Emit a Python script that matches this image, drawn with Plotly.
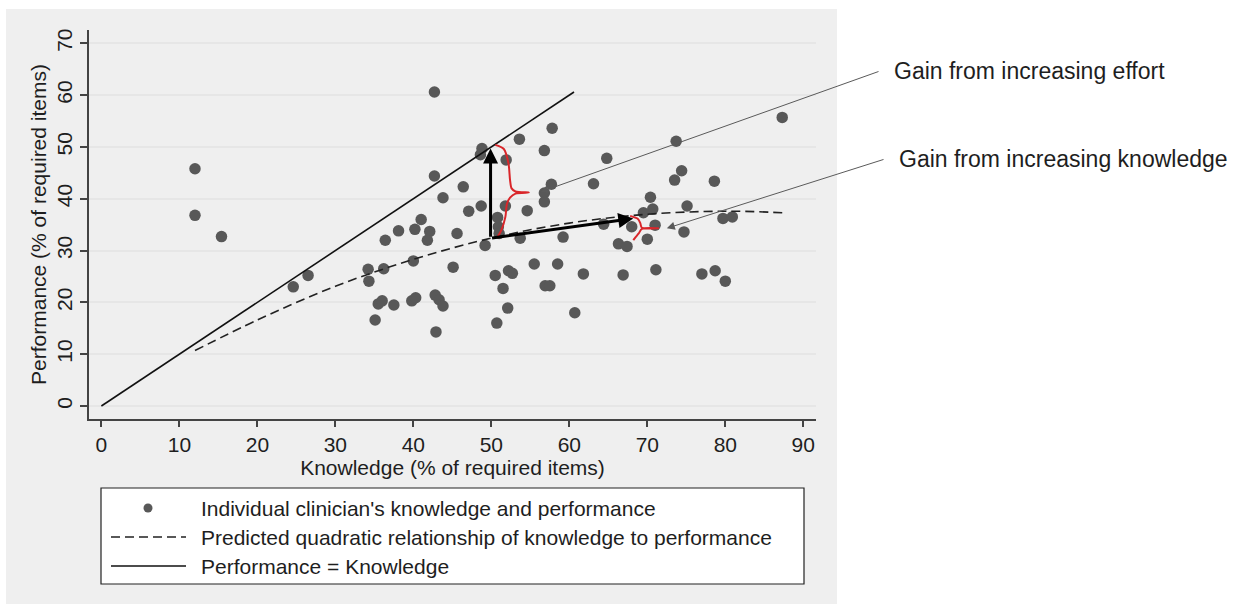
import plotly.graph_objects as go

# ---------------- data ----------------
knowledge = [12.0, 12.0, 15.4, 24.6, 26.5, 34.2, 34.3, 36.2, 36.4, 38.1,
             40.2, 40.0, 35.5, 36.0, 37.5, 35.1, 39.8, 40.3, 41.0, 42.7,
             46.4, 43.8, 48.7, 47.1, 42.1, 41.8, 45.6, 49.2, 45.1, 42.8,
             43.3, 43.8, 42.9, 42.7, 48.8, 48.6, 53.6, 57.8, 56.8, 51.9,
             64.8, 63.1, 57.7, 56.8, 56.8, 54.6, 51.8, 50.8, 50.9, 51.0,
             53.7, 59.2, 64.4, 66.3, 67.4, 68.0, 55.5, 58.5, 50.5, 52.2,
             52.7, 51.5, 56.9, 57.5, 61.8, 66.9, 52.1, 50.7, 60.7, 87.3,
             73.7, 74.4, 73.5, 78.6, 70.4, 70.7, 69.5, 75.1, 79.7, 80.9,
             71.0, 70.0, 74.7, 71.1, 77.0, 78.7, 80.0]
performance = [45.8, 36.8, 32.7, 23.0, 25.2, 26.4, 24.1, 26.5, 32.0, 33.8,
               34.1, 28.0, 19.7, 20.3, 19.5, 16.6, 20.3, 20.9, 36.0, 44.4,
               42.3, 40.2, 38.6, 37.6, 33.7, 32.0, 33.3, 31.0, 26.8, 21.4,
               20.5, 19.3, 14.3, 60.6, 49.7, 48.5, 51.5, 53.6, 49.3, 47.5,
               47.8, 42.9, 42.8, 41.1, 39.4, 37.7, 38.6, 36.4, 34.6, 33.3,
               32.4, 32.6, 35.1, 31.3, 30.8, 34.6, 27.4, 27.4, 25.2, 26.1,
               25.6, 22.7, 23.2, 23.2, 25.5, 25.3, 18.9, 16.0, 18.0, 55.7,
               51.1, 45.4, 43.6, 43.4, 40.3, 38.0, 37.3, 38.6, 36.2, 36.5,
               34.9, 32.2, 33.6, 26.3, 25.5, 26.1, 24.1]

quad_x = [12, 20, 30, 40, 50, 60, 70, 80, 87.3]
quad_y = [10.7, 16.6, 23.1, 28.3, 32.4, 35.3, 37.0, 37.6, 37.3]

equal_x = [0, 60.6]
equal_y = [0, 60.6]

# effort arrow (tail, head) and knowledge arrow (tail, head)
effort_arrow = [(49.9, 32.4), (49.9, 49.7)]
knowledge_arrow = [(49.9, 32.4), (68.2, 36.2)]

# red braces
brace_big_x = [50.5, 51.6, 52.2, 52.4, 52.6, 53.1, 54.8, 53.1, 52.4, 52.0, 51.8, 51.3, 50.7]
brace_big_y = [50.4, 49.6, 46.8, 43.6, 42.0, 41.4, 41.2, 41.0, 40.2, 39.0, 36.5, 34.0, 32.4]
brace_small_x = [67.8, 68.8, 69.1, 69.3, 71.4, 69.3, 68.9, 68.5, 68.2]
brace_small_y = [36.7, 36.1, 35.3, 34.4, 34.3, 34.2, 33.3, 32.6, 32.0]

# callout arrow heads (data) and text
callout_heads = [(56.3, 41.3), (72.5, 34.3)]
callout_text = ["Gain from increasing effort", "Gain from increasing knowledge"]

x_ticks = [0, 10, 20, 30, 40, 50, 60, 70, 80, 90]
y_ticks = [0, 10, 20, 30, 40, 50, 60, 70]

legend_labels = ["Individual clinician's knowledge and performance",
                 "Predicted quadratic relationship of knowledge to performance",
                 "Performance = Knowledge"]

# ---------------- layout geometry (pixels) ----------------
FW, FH = 1244, 607
PL, PR, PT, PB = 89, 816, 30, 419
PW, PH = PR - PL, PB - PT
XR = [-1.59, 91.63]
YR = [-2.51, 72.57]


def px(x):
    return (x - PL) / PW


def py(y):
    return (PB - y) / PH


FONT = "Liberation Sans, Arial, sans-serif"
TXT = "#1e1e1e"
DOT = "#585858"
FS = 21
FS_CALL = 23

fig = go.Figure()

fig.add_trace(go.Scatter(x=knowledge, y=performance, mode="markers",
                         marker=dict(size=11.5, color=DOT),
                         name=legend_labels[0], showlegend=False))
fig.add_trace(go.Scatter(x=quad_x, y=quad_y, mode="lines",
                         line=dict(color="#222222", width=1.6, dash="9px,5px", shape="spline"),
                         name=legend_labels[1], showlegend=False))
fig.add_trace(go.Scatter(x=equal_x, y=equal_y, mode="lines",
                         line=dict(color="#111111", width=1.6),
                         name=legend_labels[2], showlegend=False))
fig.add_trace(go.Scatter(x=brace_big_x, y=brace_big_y, mode="lines",
                         line=dict(color="#d9262a", width=2, shape="spline", smoothing=0.8),
                         showlegend=False, hoverinfo="skip"))
fig.add_trace(go.Scatter(x=brace_small_x, y=brace_small_y, mode="lines",
                         line=dict(color="#d9262a", width=2, shape="spline", smoothing=0.8),
                         showlegend=False, hoverinfo="skip"))

annotations = []
for (tx, ty), (hx, hy) in [effort_arrow, knowledge_arrow]:
    annotations.append(dict(x=hx, y=hy, ax=tx, ay=ty, xref="x", yref="y",
                            axref="x", ayref="y", text="", showarrow=True,
                            arrowhead=2, arrowsize=1, arrowwidth=3,
                            arrowcolor="#000000"))

tails_px = [(880, 71), (885, 159)]
for (hx, hy), (tx, ty) in zip(callout_heads, tails_px):
    hpx = PL + (hx - XR[0]) / (XR[1] - XR[0]) * PW
    hpy = PB - (hy - YR[0]) / (YR[1] - YR[0]) * PH
    annotations.append(dict(x=hx, y=hy, xref="x", yref="y", ax=tx - hpx, ay=ty - hpy,
                            text="", showarrow=True, arrowhead=2, arrowsize=1.6,
                            arrowwidth=1, arrowcolor="#5a5a5a"))

for label, (lx, ly) in zip(callout_text, [(892, 71), (897, 159)]):
    annotations.append(dict(x=px(lx), y=py(ly), xref="paper", yref="paper",
                            text=label, showarrow=False, xanchor="left", yanchor="middle",
                            font=dict(family=FONT, size=FS_CALL, color=TXT)))

for label, ly in zip(legend_labels, [508, 537, 566]):
    annotations.append(dict(x=px(199), y=py(ly), xref="paper", yref="paper",
                            text=label, showarrow=False, xanchor="left", yanchor="middle",
                            font=dict(family=FONT, size=FS, color=TXT)))

shapes = [
    # grey outer panel
    dict(type="rect", xref="paper", yref="paper", x0=px(6), x1=px(837), y0=py(604), y1=py(9),
         fillcolor="#efefef", line=dict(width=0), layer="below"),
    # legend box
    dict(type="rect", xref="paper", yref="paper", x0=px(101), x1=px(804), y0=py(584), y1=py(488),
         fillcolor="white", line=dict(color="#222222", width=1.2)),
    # legend samples
    dict(type="circle", xref="paper", yref="paper", x0=px(143.5), x1=px(152.5),
         y0=py(512.5), y1=py(503.5), fillcolor=DOT, line=dict(width=0)),
    dict(type="line", xref="paper", yref="paper", x0=px(111), x1=px(186), y0=py(537), y1=py(537),
         line=dict(color="#222222", width=1.6, dash="9px,5px")),
    dict(type="line", xref="paper", yref="paper", x0=px(111), x1=px(186), y0=py(566), y1=py(566),
         line=dict(color="#111111", width=1.6)),
]

fig.update_layout(
    width=FW, height=FH,
    margin=dict(l=PL, r=FW - PR, t=PT, b=FH - PB, pad=0),
    paper_bgcolor="white", plot_bgcolor="white",
    showlegend=False,
    font=dict(family=FONT, color=TXT, size=FS),
    annotations=annotations, shapes=shapes,
)
fig.update_xaxes(range=XR, tickvals=x_ticks, ticks="outside", ticklen=6,
                 tickwidth=1.5, tickcolor="#444444", showline=True, linecolor="#444444",
                 linewidth=1.5, showgrid=False, zeroline=False,
                 tickfont=dict(size=FS, color=TXT),
                 title=dict(text="Knowledge (% of required items)", standoff=2,
                            font=dict(size=FS, color=TXT)))
fig.update_yaxes(range=YR, tickvals=y_ticks, ticks="outside", ticklen=7,
                 tickwidth=1.5, tickcolor="#444444", showline=True, linecolor="#444444",
                 linewidth=1.5, showgrid=True, gridcolor="#e6e6e6", gridwidth=1.6,
                 zeroline=False, tickangle=-90,
                 tickfont=dict(size=FS, color=TXT),
                 title=dict(text="Performance (% of required items)", standoff=0,
                            font=dict(size=FS, color=TXT)))

fig.write_html("out.html")
